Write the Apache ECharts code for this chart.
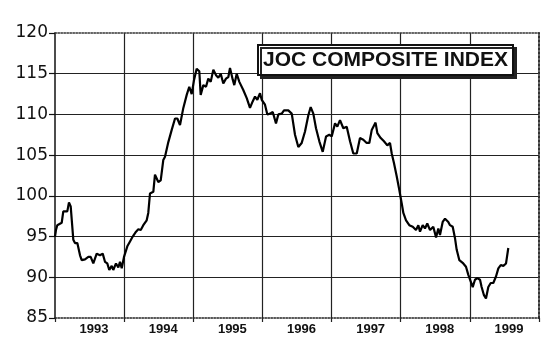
<!DOCTYPE html>
<html>
<head>
<meta charset="utf-8">
<script src="https://cdn.jsdelivr.net/npm/echarts@6/dist/echarts.min.js"></script>
<style>
html,body{margin:0;padding:0;background:#fff;}
#chart{width:558px;height:346px;}
</style>
</head>
<body>
<div id="chart"></div>
<script>
var title = 'JOC COMPOSITE INDEX';
var yearLabels = ['1993','1994','1995','1996','1997','1998','1999'];
var yTicks = [85, 90, 95, 100, 105, 110, 115, 120];
// decimal-year dates (years from 1993.0) of readings
var dates = [
0.000,0.014,0.033,0.097,0.120,0.145,0.178,0.202,0.227,0.265,0.289,0.323,0.362,0.386,0.434,0.482,0.516,0.554,0.603,0.651,
0.690,0.723,0.756,0.785,0.820,0.843,0.882,0.916,0.940,0.965,0.998,1.046,1.085,1.124,1.172,1.205,1.240,1.277,1.326,1.349,
1.374,1.422,1.446,1.494,1.529,1.566,1.591,1.639,1.688,1.736,1.769,1.808,1.856,1.905,1.942,1.977,2.010,2.049,2.087,2.107,
2.145,2.184,2.217,2.252,2.290,2.329,2.362,2.397,2.434,2.473,2.507,2.531,2.570,2.593,2.628,2.666,2.723,2.773,2.820,2.859,
2.893,2.926,2.965,2.990,3.037,3.071,3.110,3.149,3.196,3.230,3.279,3.312,3.374,3.424,3.471,3.519,3.568,3.616,3.664,3.698,
3.736,3.775,3.823,3.872,3.920,3.967,4.002,4.050,4.083,4.122,4.170,4.219,4.267,4.314,4.364,4.411,4.459,4.508,4.546,4.581,
4.636,4.662,4.711,4.758,4.806,4.845,4.870,4.903,4.942,4.980,5.014,5.038,5.077,5.124,5.174,5.221,5.255,5.279,5.318,5.351,
5.384,5.424,5.471,5.511,5.544,5.568,5.607,5.641,5.688,5.713,5.752,5.785,5.809,5.848,5.905,5.944,5.978,6.012,6.041,6.074,
6.108,6.147,6.170,6.204,6.233,6.267,6.302,6.339,6.378,6.412,6.447,6.484,6.523,6.556
];
var values = [
95.0,95.8,96.4,96.7,98.1,97.9,98.1,99.2,98.7,94.6,94.2,94.2,92.7,92.1,92.2,92.5,92.5,91.7,92.9,92.7,
92.9,91.9,91.7,90.9,91.4,90.9,91.7,91.2,91.9,91.1,92.5,93.8,94.4,95.0,95.6,95.9,95.8,96.4,97.0,97.9,
100.3,100.5,102.6,101.7,101.9,104.4,104.8,106.6,108.1,109.5,109.5,108.7,110.8,112.4,113.4,112.5,114.2,115.6,115.3,112.4,
113.6,113.4,114.4,114.0,115.5,114.8,114.5,115.0,113.8,114.4,114.6,115.7,114.3,113.6,115.0,114.0,113.0,112.0,110.8,111.6,
112.2,111.8,112.6,111.8,111.2,110.0,110.1,110.3,108.9,110.0,110.1,110.5,110.5,110.1,107.5,106.0,106.5,107.9,109.9,110.9,
110.1,108.3,106.7,105.4,107.3,107.5,107.3,108.9,108.5,109.3,108.3,108.5,106.7,105.2,105.2,107.1,106.9,106.5,106.5,108.1,
109.0,107.7,107.1,106.7,106.2,106.5,105.2,104.0,102.4,100.7,99.1,97.9,97.0,96.4,96.2,95.8,96.4,95.6,96.4,96.0,
96.6,95.8,96.2,94.9,96.0,95.2,96.8,97.2,96.8,96.4,96.2,94.8,93.4,92.1,91.7,91.3,90.3,89.5,88.8,89.7,
89.9,89.7,88.8,87.8,87.4,88.8,89.3,89.3,90.1,91.1,91.5,91.4,91.7,93.6
];
var startYear = 1993;
var seriesData = dates.map(function (d, i) { return [startYear + d, values[i]]; });

var chart = echarts.init(document.getElementById('chart'), null, {renderer: 'canvas'});
var font = "'Liberation Sans', Arial, Helvetica, sans-serif";
chart.setOption({
  backgroundColor: '#fff',
  animation: false,
  title: {
    text: title,
    left: 258, top: 45,
    padding: [5, 5, 4, 5],
    backgroundColor: '#fff',
    borderColor: '#111',
    borderWidth: 2,
    shadowColor: '#222',
    shadowBlur: 0,
    shadowOffsetX: 3,
    shadowOffsetY: 3,
    textStyle: {fontFamily: font, fontSize: 21, fontWeight: 'bold', color: '#111'}
  },
  grid: {left: 55, right: 19, top: 33, bottom: 28, containLabel: false},
  xAxis: [{
    type: 'category',
    data: yearLabels,
    boundaryGap: true,
    position: 'bottom',
    axisLine: {show: true, lineStyle: {color: '#222', width: 1.5, type: 'dotted'}},
    axisTick: {show: true, length: 4, inside: false, lineStyle: {color: '#222', width: 1.2}},
    axisLabel: {color: '#111', fontFamily: font, fontSize: 13, fontWeight: 'bold', margin: 5, padding: [0, 0, 0, 9]},
    splitLine: {show: true, showMinLine: false, showMaxLine: false, lineStyle: {color: '#222', width: 1.2}}
  }, {
    type: 'value',
    min: startYear, max: startYear + yearLabels.length,
    position: 'top',
    axisLine: {show: true, onZero: false, lineStyle: {color: '#333', width: 1.5, type: 'dotted'}},
    axisTick: {show: false},
    axisLabel: {show: false},
    splitLine: {show: false}
  }],
  yAxis: [{
    type: 'value',
    min: yTicks[0], max: yTicks[yTicks.length - 1], interval: 5,
    position: 'left',
    axisLine: {show: true, lineStyle: {color: '#111', width: 1.5}},
    axisTick: {show: true, length: 6, inside: false, lineStyle: {color: '#111', width: 1.2}},
    axisLabel: {color: '#111', fontFamily: "'DejaVu Sans', sans-serif", fontSize: 17, margin: 7},
    splitLine: {show: true, showMinLine: false, showMaxLine: false, lineStyle: {color: '#222', width: 1.2}}
  }, {
    type: 'value',
    min: yTicks[0], max: yTicks[yTicks.length - 1],
    position: 'right',
    axisLine: {show: true, onZero: false, lineStyle: {color: '#333', width: 2, type: 'dotted'}},
    axisTick: {show: false},
    axisLabel: {show: false},
    splitLine: {show: false}
  }],
  series: [{
    type: 'line',
    xAxisIndex: 1,
    yAxisIndex: 0,
    data: seriesData,
    showSymbol: false,
    symbol: 'none',
    lineStyle: {color: '#000', width: 2.2},
    z: 5
  }]
});
</script>
</body>
</html>
